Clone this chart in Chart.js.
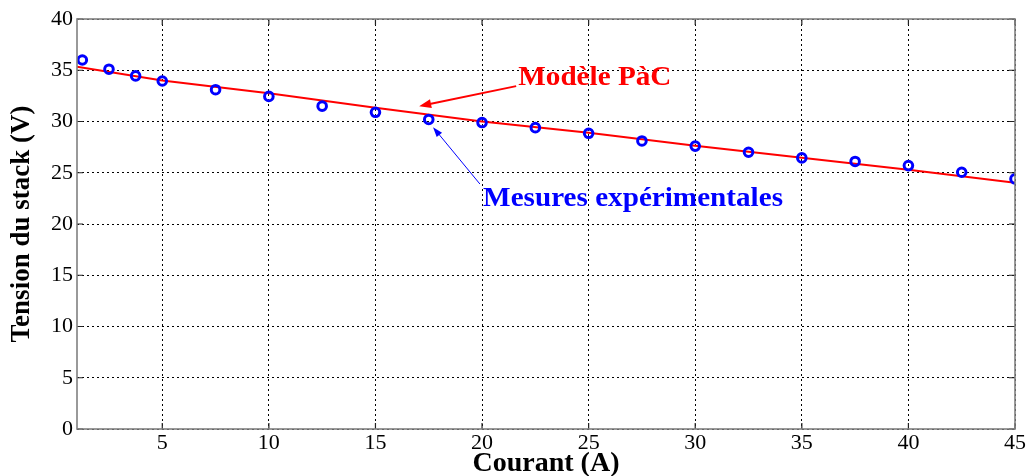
<!DOCTYPE html>
<html>
<head>
<meta charset="utf-8">
<script src="https://cdn.jsdelivr.net/npm/chart.js@4.4.1/dist/chart.umd.min.js"></script>
<style>
  body { margin: 0; background: #fff; }
  #wrap { width: 1029px; height: 476px; }
</style>
</head>
<body>
<div id="wrap"><canvas id="stack-chart" width="1029" height="476"></canvas></div>
<script>
// mesures experimentales
var courantMes = [1.25, 2.5, 3.75, 5, 7.5, 10, 12.5, 15, 17.5, 20, 22.5, 25, 27.5, 30, 32.5, 35, 37.5, 40, 42.5, 45];
var tensionMes = [36.0, 35.1, 34.45, 33.95, 33.1, 32.45, 31.5, 30.9, 30.2, 29.9, 29.4, 28.85, 28.1, 27.6, 27.0, 26.45, 26.1, 25.7, 25.05, 24.4];
// modele PaC
var courantMod = [1, 5, 10, 15, 20, 25, 30, 35, 40, 45];
var tensionMod = [35.35, 34.0, 32.75, 31.35, 30.0, 28.9, 27.64, 26.47, 25.3, 24.02];
// ticks
var xTicks = [5, 10, 15, 20, 25, 30, 35, 40, 45];
var yTicks = [0, 5, 10, 15, 20, 25, 30, 35, 40];

var serif = "'Liberation Serif', 'Times New Roman', serif";

function toPoints(xs, ys) {
    return xs.map(function(x, i) { return {x: x, y: ys[i]}; });
}

// box + inner tick marks, matlab style
var boxPlugin = {
    id: 'box',
    afterDatasetsDraw: function(chart) {
        var ctx = chart.ctx, a = chart.chartArea;
        var sx = chart.scales.x, sy = chart.scales.y;
        ctx.save();
        ctx.strokeStyle = '#222';
        ctx.lineWidth = 1.2;
        ctx.beginPath();
        xTicks.forEach(function(v) {
            var px = sx.getPixelForValue(v);
            ctx.moveTo(px, a.bottom); ctx.lineTo(px, a.bottom - 6);
            ctx.moveTo(px, a.top); ctx.lineTo(px, a.top + 6);
        });
        yTicks.forEach(function(v) {
            var py = sy.getPixelForValue(v);
            ctx.moveTo(a.left, py); ctx.lineTo(a.left + 6, py);
            ctx.moveTo(a.right, py); ctx.lineTo(a.right - 6, py);
        });
        ctx.stroke();
        ctx.strokeStyle = '#808080';
        ctx.lineWidth = 1.6;
        ctx.strokeRect(a.left, a.top, a.right - a.left, a.bottom - a.top);
        ctx.restore();
    }
};

function arrow(ctx, x1, y1, x2, y2, color, w, head, hw) {
    var ang = Math.atan2(y2 - y1, x2 - x1);
    ctx.strokeStyle = color;
    ctx.fillStyle = color;
    ctx.lineWidth = w;
    ctx.beginPath();
    ctx.moveTo(x1, y1);
    ctx.lineTo(x2 - Math.cos(ang) * head * 0.8, y2 - Math.sin(ang) * head * 0.8);
    ctx.stroke();
    ctx.beginPath();
    ctx.moveTo(x2, y2);
    ctx.lineTo(x2 - Math.cos(ang) * head - Math.sin(ang) * hw, y2 - Math.sin(ang) * head + Math.cos(ang) * hw);
    ctx.lineTo(x2 - Math.cos(ang) * head + Math.sin(ang) * hw, y2 - Math.sin(ang) * head - Math.cos(ang) * hw);
    ctx.closePath();
    ctx.fill();
}

// text a bit wider than the font, like the original figure
function wideText(ctx, txt, x, y) {
    ctx.save();
    ctx.translate(x, y);
    ctx.scale(1.08, 1);
    ctx.fillText(txt, 0, 0);
    ctx.restore();
}

// annotations (positions in data units)
var annotPlugin = {
    id: 'annot',
    afterDraw: function(chart) {
        var ctx = chart.ctx;
        var sx = chart.scales.x, sy = chart.scales.y;
        var X = function(v) { return sx.getPixelForValue(v); };
        var Y = function(v) { return sy.getPixelForValue(v); };
        ctx.save();
        ctx.textBaseline = 'middle';
        ctx.textAlign = 'left';
        ctx.font = "bold 27px " + serif;
        ctx.fillStyle = '#ff0000';
        wideText(ctx, 'Modèle PàC', X(21.7), Y(34.25));
        arrow(ctx, X(21.6), Y(33.45), X(17.05), Y(31.5), '#ff0000', 2, 12, 4.5);
        ctx.fillStyle = '#0000ff';
        wideText(ctx, 'Mesures expérimentales', X(20.05), Y(22.45));
        arrow(ctx, X(19.9), Y(23.9), X(17.7), Y(29.45), '#0000ff', 1, 10, 3.5);
        ctx.restore();
    }
};

new Chart(document.getElementById('stack-chart'), {
    type: 'scatter',
    data: {
        datasets: [
            {
                label: 'Modèle PàC',
                type: 'line',
                data: toPoints(courantMod, tensionMod),
                borderColor: '#ff0000',
                borderWidth: 2,
                pointRadius: 0,
                fill: false,
                tension: 0,
                order: 2
            },
            {
                label: 'Mesures expérimentales',
                data: toPoints(courantMes, tensionMes),
                borderColor: '#0000ff',
                backgroundColor: 'rgba(0,0,0,0)',
                pointRadius: 4.3,
                pointBorderWidth: 3,
                order: 1
            }
        ]
    },
    options: {
        responsive: false,
        animation: false,
        layout: { padding: { top: 19, right: 13, left: 0, bottom: 0 } },
        plugins: {
            legend: { display: false },
            tooltip: { enabled: false }
        },
        scales: {
            x: {
                type: 'linear',
                min: 1,
                max: 45,
                afterBuildTicks: function(s) { s.ticks = xTicks.map(function(v) { return {value: v}; }); },
                afterFit: function(s) { s.height = 47; },
                grid: { color: '#000', lineWidth: 1, drawTicks: false },
                border: { display: false, dash: [2, 3] },
                ticks: { color: '#000', padding: 3, maxRotation: 0, font: { family: serif, size: 22, lineHeight: 1 } },
                title: {
                    display: true,
                    text: 'Courant (A)',
                    color: '#000',
                    padding: { top: 0, bottom: 0 },
                    font: { family: serif, size: 28, weight: 'bold', lineHeight: 0.85 }
                }
            },
            y: {
                min: 0,
                max: 40,
                afterBuildTicks: function(s) { s.ticks = yTicks.map(function(v) { return {value: v}; }); },
                afterFit: function(s) { s.width = 77; },
                grid: { color: '#000', lineWidth: 1, drawTicks: false },
                border: { display: false, dash: [2, 3] },
                ticks: { color: '#000', padding: 4, font: { family: serif, size: 22 } },
                title: {
                    display: true,
                    text: 'Tension du stack (V)',
                    color: '#000',
                    padding: { top: 7, bottom: 0 },
                    font: { family: serif, size: 27, weight: 'bold', lineHeight: 1.1 }
                }
            }
        }
    },
    plugins: [boxPlugin, annotPlugin]
});
</script>
</body>
</html>
